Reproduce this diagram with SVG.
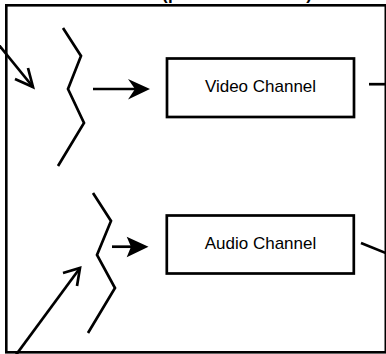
<svg xmlns="http://www.w3.org/2000/svg" width="386" height="354" viewBox="0 0 386 354">
<style>
.ln{fill:none;stroke:#000;stroke-width:2.7;stroke-linecap:butt;stroke-linejoin:miter}
.box{fill:#fff;stroke:#000;stroke-width:2.7}
.lbl{font-family:"Liberation Sans",Arial,sans-serif;font-size:17px;fill:#000;text-anchor:middle}
.ttl{font-family:"Liberation Sans",Arial,sans-serif;font-size:17px;font-weight:bold;fill:#000;text-anchor:middle}
.head{fill:#000;stroke:none}
</style>
<rect width="386" height="354" fill="#fff"/>
<text class="ttl" x="237" y="-0.5" textLength="150">(processed audio)</text>
<g id="frame"><rect x="6.3" y="5.3" width="379.5" height="347" fill="none" stroke="#000" stroke-width="2.6"/></g>
<g id="video-switch"><polyline class="ln" points="63,28 81,56 68,89 84,123 58,166"/></g>
<g id="audio-switch"><polyline class="ln" points="93,193 111,221 97,255 115,288 88,333"/></g>
<g id="video-channel"><rect class="box" x="167" y="58.5" width="187" height="58.5"/><text class="lbl" x="260.5" y="92">Video Channel</text></g>
<g id="audio-channel"><rect class="box" x="166.8" y="215.5" width="187" height="58"/><text class="lbl" x="260.5" y="248.5">Audio Channel</text></g>
<g id="connectors">
<line class="ln" x1="93" y1="89" x2="138" y2="89"/>
<polygon class="head" points="150,89 128,79 135,89 128,99.5"/>
<line class="ln" x1="112" y1="246.7" x2="137" y2="246.7"/>
<polygon class="head" points="148.5,246.7 126.7,236.7 131,246.7 126.7,257.3"/>
<line class="ln" x1="-2" y1="44" x2="33" y2="87"/>
<polyline class="ln" points="28,68 33,87 15,79"/>
<line class="ln" x1="10" y1="363" x2="80" y2="268"/>
<polyline class="ln" points="63,273 80,268 77,286"/>
<line class="ln" x1="369" y1="84.2" x2="386" y2="84.2"/>
<line class="ln" x1="361" y1="243" x2="387" y2="253.5"/>
</g>
</svg>
